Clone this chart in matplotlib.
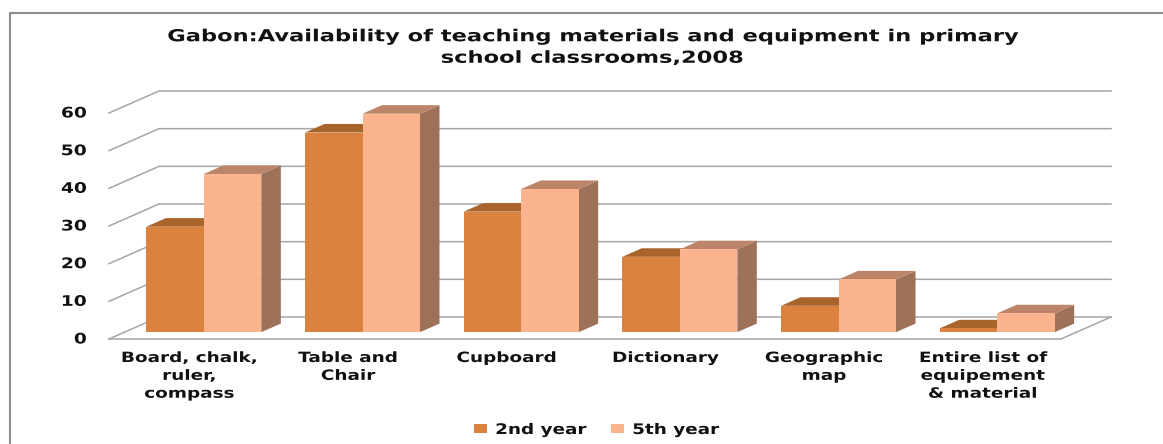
import matplotlib
matplotlib.use("Agg")
import matplotlib.pyplot as plt
from matplotlib.patches import Polygon, Patch
from matplotlib.lines import Line2D
from matplotlib.patheffects import AbstractPathEffect
from matplotlib.transforms import Affine2D

categories = ["Board, chalk,\nruler,\ncompass", "Table and\nChair", "Cupboard", "Dictionary",
              "Geographic\nmap", "Entire list of\nequipement\n& material"]
second_year = [28, 53, 32, 20, 7, 1]
fifth_year = [42, 58, 38, 22, 14, 5]
yticks = [0, 10, 20, 30, 40, 50, 60]
series_names = ["2nd year", "5th year"]

W, H = 1163, 444
plt.rcParams['font.family'] = 'DejaVu Sans'
fig = plt.figure(figsize=(W / 100, H / 100), dpi=100)


class StretchX(AbstractPathEffect):
    """Draw text wider than its font, around a fixed pixel column."""
    def __init__(self, sx, cx):
        super().__init__()
        self.sx, self.cx = sx, cx

    def draw_path(self, renderer, gc, tpath, affine, rgbFace=None):
        t = affine + Affine2D().translate(-self.cx, 0).scale(self.sx, 1).translate(self.cx, 0)
        renderer.draw_path(gc, tpath, t, rgbFace)


L, R, T, B = 109, 1061, 113, 339
ax = fig.add_axes([L / W, 1 - B / H, (R - L) / W, (B - T) / H])
ax.set_xlim(0, len(categories))
ax.set_ylim(0, 60)
ax.axis('off')

DX = 50 / ((R - L) / len(categories))
DY = 22 / ((B - T) / 60)
NEAR, FAR = 0.31, 0.70
BW = 57.5 / ((R - L) / len(categories))
GRID = "#a6a6a6"


def col(x, y, d):
    return x + DX * d, y + DY * d


n = len(categories)
for t in yticks:
    x0, y0 = col(0, t, 1)
    x1, y1 = col(n, t, 1)
    ax.plot([0, x0, x1], [t, y0, y1], color=GRID, lw=1.1, clip_on=False, zorder=1)
ax.plot([col(n, 0, 1)[0], n, 0], [col(n, 0, 1)[1], 0, 0], color=GRID, lw=1.1, clip_on=False, zorder=1)

front = ["#da823e", "#fcb48e"]
top = ["#a9642c", "#bc8468"]
side = ["#9a6030", "#9e7259"]
z = 3
for i in range(n):
    for j, vals in enumerate([second_year, fifth_year]):
        v = vals[i]
        left = i + 0.5 - BW + j * BW
        x0, y0 = col(left, 0, NEAR)
        x0b, y0b = col(left, 0, FAR)
        dxx, dyy = x0b - x0, y0b - y0
        ax.add_patch(Polygon([(x0 + BW, y0), (x0 + BW + dxx, y0 + dyy), (x0 + BW + dxx, y0 + v + dyy), (x0 + BW, y0 + v)],
                             fc=side[j], ec='none', clip_on=False, zorder=z))
        ax.add_patch(Polygon([(x0, y0 + v), (x0 + dxx, y0 + v + dyy), (x0 + BW + dxx, y0 + v + dyy), (x0 + BW, y0 + v)],
                             fc=top[j], ec='none', clip_on=False, zorder=z))
        ax.bar(x0, v, width=BW, bottom=y0, align='edge', color=front[j], clip_on=False, zorder=z + 1)
        z += 2

TEXT = '#111111'
for t in yticks:
    ax.annotate(str(t), xy=(0, t), xytext=(-22, 0), textcoords='offset pixels',
                ha='right', va='center', fontsize=10.5, fontweight='bold', color=TEXT, annotation_clip=False,
                path_effects=[StretchX(1.28, L - 22)])
for i, c in enumerate(categories):
    cx = L + (i + 0.5) * (R - L) / n + 1
    ax.annotate(c, xy=(i + 0.5, 0), xytext=(1, -12), textcoords='offset pixels',
                ha='center', va='top', linespacing=1.35, annotation_clip=False,
                fontsize=10.2, fontweight='bold', color=TEXT,
                path_effects=[StretchX(1.3, cx)])

fig.text(592 / W, 1 - 47 / H, "Gabon:Availability of teaching materials and equipment in primary\nschool classrooms,2008",
         ha='center', va='center', fontsize=11.9, fontweight='bold', color=TEXT, linespacing=1.25,
         path_effects=[StretchX(1.365, 592)])

handles = [Patch(fc=front[0], label=series_names[0]), Patch(fc=front[1], label=series_names[1])]
leg = fig.legend(handles=handles, loc='center left', bbox_to_anchor=(474 / W, 1 - 429.5 / H), ncol=2, frameon=False,
                 prop=dict(size=10.5, weight='bold'), handlelength=0.9, handleheight=0.55,
                 columnspacing=2.95, handletextpad=0.55, borderpad=0, borderaxespad=0)
fig.canvas.draw()
for txt in leg.get_texts():
    txt.set_color(TEXT)
    txt.set_path_effects([StretchX(1.26, txt.get_window_extent().x0)])

fig.add_artist(Line2D([9.5 / W, 9.5 / W, 1], [0, 1 - 13 / H, 1 - 13 / H], color="#8c8c8c", lw=1.5))

fig.savefig("out.png", dpi=100)
